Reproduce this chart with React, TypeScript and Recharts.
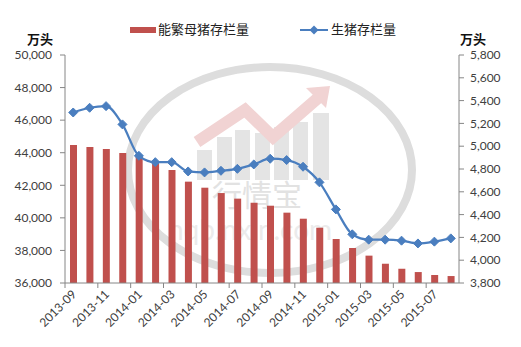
import React from "react";
import { ComposedChart, Bar, Line, XAxis, YAxis } from "recharts";

const months = [
  "2013-09", "2013-10", "2013-11", "2013-12", "2014-01", "2014-02",
  "2014-03", "2014-04", "2014-05", "2014-06", "2014-07", "2014-08",
  "2014-09", "2014-10", "2014-11", "2014-12", "2015-01", "2015-02",
  "2015-03", "2015-04", "2015-05", "2015-06", "2015-07", "2015-08",
];

// 能繁母猪存栏量 (bars, right axis)
const sows = [
  5010, 4993, 4975, 4940, 4912, 4864, 4791, 4689, 4636, 4589, 4540, 4505,
  4478, 4417, 4364, 4285, 4186, 4107, 4040, 3969, 3925, 3896, 3870, 3861,
];

// 生猪存栏量 (line, left axis)
const hogs = [
  46470, 46760, 46860, 45740, 43810, 43420, 43420, 42850, 42790, 42890, 43010, 43280,
  43630, 43550, 43140, 42180, 40520, 38990, 38660, 38660, 38600, 38430, 38540, 38740,
];

const leftTicks = [36000, 38000, 40000, 42000, 44000, 46000, 48000, 50000];
const rightTicks = [3800, 4000, 4200, 4400, 4600, 4800, 5000, 5200, 5400, 5600, 5800];

const data = months.map((m, i) => ({ month: m, sows: sows[i], hogs: hogs[i] }));

const AXIS = "#868686";
const TXT = "#404040";
const RED = "#C0504D";
const BLUE = "#4A7EBF";
const FONT = "Lato, 'Liberation Sans', sans-serif";
const CJK = "'Noto Sans CJK SC', sans-serif";

const fmt = (v: number) => v.toLocaleString("en-US");

// plot spans x 65..459, 24 categories
const BAND = (459 - 65) / months.length;

const XTick = (props: any) => {
  const { x, y, payload } = props;
  const bx = x - BAND / 2;
  const tx = x + 4;
  const ty = y + 12;
  return (
    <g>
      <line x1={bx} x2={bx} y1={y} y2={y + 5} stroke={AXIS} />
      <text
        x={tx}
        y={ty}
        transform={`rotate(-45 ${tx} ${ty})`}
        textAnchor="end"
        fontSize={12}
        fontFamily={FONT}
        fill={TXT}
      >
        {payload.value}
      </text>
    </g>
  );
};

const Diamond = (p: any) => {
  const { cx, cy, index } = p;
  if (cx == null || cy == null) return <g key={index} />;
  const r = 4.5;
  return (
    <path
      key={index}
      d={`M${cx},${cy - r}L${cx + r},${cy}L${cx},${cy + r}L${cx - r},${cy}Z`}
      fill={BLUE}
      stroke={BLUE}
    />
  );
};

const LegendBox = () => (
  <div style={{ position: "absolute", left: 0, top: 18, width: 521, height: 24, fontFamily: CJK, fontSize: 13, color: "#222" }}>
    <div style={{ position: "absolute", left: 130, top: 9, width: 26, height: 6, background: RED }} />
    <span style={{ position: "absolute", left: 158, top: 2, lineHeight: "18px" }}>能繁母猪存栏量</span>
    <svg style={{ position: "absolute", left: 298, top: 6 }} width={32} height={12}>
      <line x1={2} x2={30} y1={6} y2={6} stroke={BLUE} strokeWidth={2} />
      <path d="M16,1.5L20.5,6L16,10.5L11.5,6Z" fill={BLUE} />
    </svg>
    <span style={{ position: "absolute", left: 331, top: 2, lineHeight: "18px" }}>生猪存栏量</span>
  </div>
);

const Watermark = () => (
  <svg width={521} height={347} style={{ position: "absolute", left: 0, top: 0 }}>
    <ellipse cx={270} cy={170} rx={142} ry={103} fill="none" stroke="#dddddd" strokeWidth={8} />
    <g fill="#e4e4e4">
      <rect x={197} y={150} width={15} height={30} />
      <rect x={217} y={137} width={15} height={43} />
      <rect x={235} y={130} width={15} height={50} />
      <rect x={255} y={133} width={15} height={47} />
      <rect x={274} y={127} width={15} height={53} />
      <rect x={293} y={122} width={15} height={58} />
      <rect x={313} y={113} width={16} height={67} />
    </g>
    <polyline
      points="197,142 245,110 273,137 318,98"
      fill="none"
      stroke="#f1d3d3"
      strokeWidth={12}
    />
    <path d="M306,88 L330,86 L326,108 Z" fill="#f1d3d3" />
    <text x={212} y={206} fontSize={30} fontFamily={CJK} fill="#e2e2e2">行情宝</text>
    <text x={168} y={240} fontSize={28} fontFamily={FONT} fill="#ebebeb">hqb.nxin.com</text>
  </svg>
);

const unitStyle: React.CSSProperties = {
  position: "absolute",
  top: 32,
  fontFamily: CJK,
  fontWeight: 700,
  fontSize: 13,
  lineHeight: "14px",
  color: "#111",
};

export default function App() {
  return (
    <div style={{ position: "absolute", left: 0, top: 0, width: 521, height: 347, background: "#fff" }}>
      <Watermark />
      <LegendBox />
      <div style={{ ...unitStyle, left: 27 }}>万头</div>
      <div style={{ ...unitStyle, left: 460 }}>万头</div>
      <ComposedChart
        width={521}
        height={347}
        data={data}
        margin={{ top: 55, right: 0, bottom: 0, left: 0 }}
        style={{ position: "absolute", left: 0, top: 0 }}
      >
        <XAxis
          dataKey="month"
          height={64}
          interval={1}
          tickLine={false}
          tickSize={0}
          tickMargin={0}
          axisLine={{ stroke: AXIS }}
          tick={<XTick />}
        />
        <YAxis
          yAxisId="left"
          orientation="left"
          width={65}
          domain={[36000, 50000]}
          ticks={leftTicks}
          tickFormatter={fmt}
          tickSize={5}
          tickMargin={8}
          axisLine={{ stroke: AXIS }}
          tickLine={{ stroke: AXIS }}
          tick={{ fill: TXT, fontSize: 12, fontFamily: FONT }}
          allowDataOverflow
        />
        <YAxis
          yAxisId="right"
          orientation="right"
          width={62}
          domain={[3800, 5800]}
          ticks={rightTicks}
          tickFormatter={fmt}
          tickSize={5}
          tickMargin={6}
          axisLine={{ stroke: AXIS }}
          tickLine={{ stroke: AXIS }}
          tick={{ fill: TXT, fontSize: 12, fontFamily: FONT }}
          allowDataOverflow
        />
        <Bar yAxisId="right" dataKey="sows" name="能繁母猪存栏量" fill={RED} barSize={7} isAnimationActive={false} />
        <Line
          yAxisId="left"
          dataKey="hogs"
          name="生猪存栏量"
          type="monotone"
          stroke={BLUE}
          strokeWidth={2.25}
          dot={Diamond}
          activeDot={false}
          isAnimationActive={false}
        />
      </ComposedChart>
    </div>
  );
}
